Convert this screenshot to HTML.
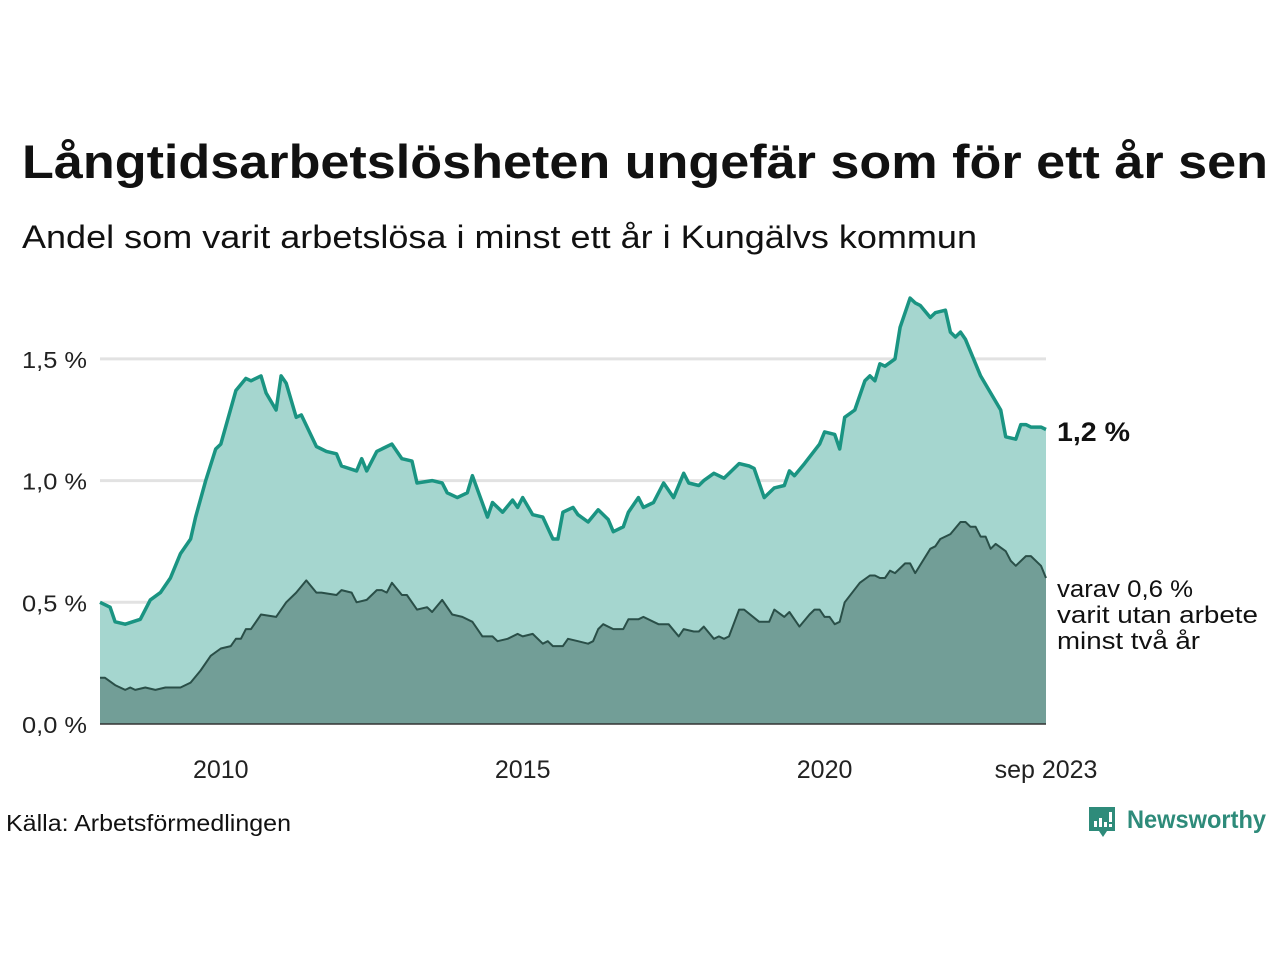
<!DOCTYPE html>
<html><head><meta charset="utf-8"><style>
html,body{margin:0;padding:0;background:#fff;}
svg{display:block;font-family:"Liberation Sans",sans-serif;}
</style></head><body>
<svg id="chart" width="1280" height="960" viewBox="0 0 1280 960">
<rect width="1280" height="960" fill="#fff"/>
<text x="22" y="178" font-size="47" font-weight="bold" fill="#111" textLength="1246" lengthAdjust="spacingAndGlyphs">Långtidsarbetslösheten ungefär som för ett år sen</text>
<text x="22" y="248" font-size="32" fill="#111" textLength="955" lengthAdjust="spacingAndGlyphs">Andel som varit arbetslösa i minst ett år i Kungälvs kommun</text>
<g id="grid"></g>
<g id="areas"></g>
<g id="yticks"></g>
<g id="xticks"></g>
<text x="1057" y="441" font-size="27" font-weight="bold" fill="#111" textLength="73" lengthAdjust="spacingAndGlyphs">1,2 %</text>
<g font-size="24" fill="#111">
<text x="1057" y="597" textLength="136" lengthAdjust="spacingAndGlyphs">varav 0,6 %</text>
<text x="1057" y="623" textLength="201" lengthAdjust="spacingAndGlyphs">varit utan arbete</text>
<text x="1057" y="649" textLength="143" lengthAdjust="spacingAndGlyphs">minst två år</text>
</g>
<text x="6" y="831" font-size="23" fill="#111" textLength="285" lengthAdjust="spacingAndGlyphs">Källa: Arbetsförmedlingen</text>
<g>
<path d="M1089 807 h26 v24 h-8 l-4 6 l-4 -6 h-10 z" fill="#2e8b7a"/>
<rect x="1094" y="821" width="3" height="6" fill="#fff"/><rect x="1099" y="818" width="3" height="9" fill="#fff"/><rect x="1104" y="822" width="3" height="5" fill="#fff"/><rect x="1109" y="812" width="3" height="10" fill="#fff"/><rect x="1109" y="824" width="3" height="3" fill="#fff"/>
<text x="1127" y="828" font-size="25" font-weight="bold" fill="#2e8b7a" textLength="139" lengthAdjust="spacingAndGlyphs">Newsworthy</text>
</g>
</svg>
<script>
// months since Jan 2008, values in %
const topMonths=[0,2,3,5,8,10,12,14,16,18,19,21,23,24,27,29,30,32,33,35,36,37,39,40,43,45,47,48,51,52,53,55,58,60,62,63,66,68,69,71,73,74,77,78,80,82,83,84,86,88,90,91,92,94,95,97,99,101,102,104,105,107,108,110,112,114,116,117,119,120,122,124,127,129,130,132,134,136,137,138,140,143,144,146,147,148,150,152,153,154,155,156,158,159,161,162,163,165,166,168,169,170,171,172,175,179,180,182,183,184,185,187,188];
const topValues=[0.50,0.48,0.42,0.41,0.43,0.51,0.54,0.60,0.70,0.76,0.85,1.00,1.13,1.15,1.37,1.42,1.41,1.43,1.36,1.29,1.43,1.40,1.26,1.27,1.14,1.12,1.11,1.06,1.04,1.09,1.04,1.12,1.15,1.09,1.08,0.99,1.00,0.99,0.95,0.93,0.95,1.02,0.85,0.91,0.87,0.92,0.89,0.93,0.86,0.85,0.76,0.76,0.87,0.89,0.86,0.83,0.88,0.84,0.79,0.81,0.87,0.93,0.89,0.91,0.99,0.93,1.03,0.99,0.98,1.00,1.03,1.01,1.07,1.06,1.05,0.93,0.97,0.98,1.04,1.02,1.07,1.15,1.20,1.19,1.13,1.26,1.29,1.41,1.43,1.41,1.48,1.47,1.50,1.63,1.75,1.73,1.72,1.67,1.69,1.70,1.61,1.59,1.61,1.58,1.43,1.29,1.18,1.17,1.23,1.23,1.22,1.22,1.21];
const subMonths=[0,1,3,5,6,7,9,11,13,16,18,20,22,24,26,27,28,29,30,32,35,37,39,41,43,44,47,48,50,51,53,55,56,57,58,60,61,63,65,66,68,70,72,74,76,78,79,81,83,84,86,88,89,90,92,93,95,97,98,99,100,102,104,105,107,108,110,111,113,115,116,118,119,120,122,123,124,125,127,128,131,133,134,136,137,139,141,142,143,144,145,146,147,148,151,153,154,155,156,157,158,160,161,162,165,166,167,169,171,172,173,174,175,176,177,178,180,181,182,184,185,187,188];
const subValues=[0.19,0.19,0.16,0.14,0.15,0.14,0.15,0.14,0.15,0.15,0.17,0.22,0.28,0.31,0.32,0.35,0.35,0.39,0.39,0.45,0.44,0.50,0.54,0.59,0.54,0.54,0.53,0.55,0.54,0.50,0.51,0.55,0.55,0.54,0.58,0.53,0.53,0.47,0.48,0.46,0.51,0.45,0.44,0.42,0.36,0.36,0.34,0.35,0.37,0.36,0.37,0.33,0.34,0.32,0.32,0.35,0.34,0.33,0.34,0.39,0.41,0.39,0.39,0.43,0.43,0.44,0.42,0.41,0.41,0.36,0.39,0.38,0.38,0.40,0.35,0.36,0.35,0.36,0.47,0.47,0.42,0.42,0.47,0.44,0.46,0.40,0.45,0.47,0.47,0.44,0.44,0.41,0.42,0.50,0.58,0.61,0.61,0.60,0.60,0.63,0.62,0.66,0.66,0.62,0.72,0.73,0.76,0.78,0.83,0.83,0.81,0.81,0.77,0.77,0.72,0.74,0.71,0.67,0.65,0.69,0.69,0.65,0.60];
const yTickValues=[0,0.5,1.0,1.5];
const yTickLabels=["0,0 %","0,5 %","1,0 %","1,5 %"];
const xTickMonths=[24,84,144,188];
const xTickLabels=["2010","2015","2020","sep 2023"];

const NS="http://www.w3.org/2000/svg";
const X0=100,X1=1046,Y0=724,PX_PER_UNIT=243.4;
const xS=m=>X0+(X1-X0)*m/188;
const yS=v=>Y0-v*PX_PER_UNIT;
function mk(tag,attrs,parent){const e=document.createElementNS(NS,tag);for(const k in attrs)e.setAttribute(k,attrs[k]);parent.appendChild(e);return e;}
const grid=document.getElementById('grid'),areas=document.getElementById('areas'),yt=document.getElementById('yticks'),xt=document.getElementById('xticks');
yTickValues.forEach((v,i)=>{
  if(v>0){const g=mk('line',{x1:X0,x2:X1,y1:yS(v),y2:yS(v),stroke:'#e2e2e2','stroke-width':3},grid);
  
  }
  const t=mk('text',{x:22,y:yS(v)+9,'font-size':23,fill:'#222',textLength:65,lengthAdjust:'spacingAndGlyphs'},yt);
  t.textContent=yTickLabels[i];
  
  
});
xTickMonths.forEach((m,i)=>{
  const t=mk('text',{x:xS(m),y:778,'font-size':25,fill:'#222','text-anchor':'middle'},xt);
  t.textContent=xTickLabels[i];
  
  
});
function linePts(ms,vs){return ms.map((m,i)=>xS(m).toFixed(1)+','+yS(vs[i]).toFixed(1)).join(' L');}
function drawSeries(ms,vs,fill,stroke,sw,name){
  const l=linePts(ms,vs);
  const a=mk('path',{d:'M'+xS(ms[0])+','+Y0+' L'+l+' L'+xS(ms[ms.length-1])+','+Y0+' Z',fill:fill},areas);
  
  
  const p=mk('path',{d:'M'+l,fill:'none',stroke:stroke,'stroke-width':sw,'stroke-linejoin':'round'},areas);
  
  
}
drawSeries(topMonths,topValues,'#a5d6cf','#1a9482',3.5,'long-term-unemployment');
drawSeries(subMonths,subValues,'#729e97','#2a4f48',2,'two-year-unemployment');
const base=mk('line',{x1:X0,x2:X1,y1:Y0,y2:Y0,stroke:'#333','stroke-width':1.5},areas);


</script>
</body></html>
